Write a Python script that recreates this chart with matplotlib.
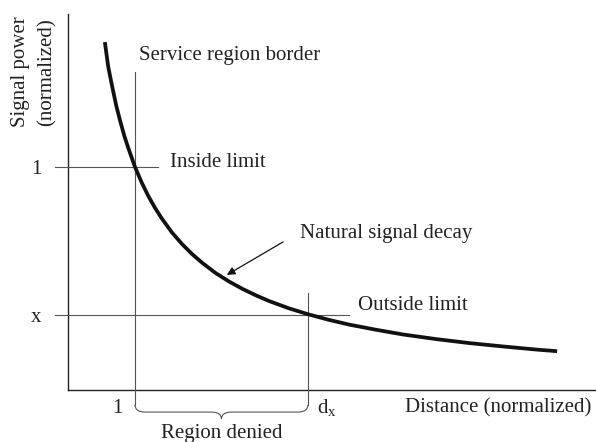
import matplotlib
matplotlib.use("Agg")
import matplotlib.pyplot as plt
from matplotlib.path import Path
from matplotlib.patches import PathPatch

# ---- data ----
distance = [0.55, 0.60, 0.66, 0.72, 0.78, 0.84, 0.90, 1.00, 1.10, 1.20, 1.30,
            1.40, 1.55, 1.70, 1.85, 2.00, 2.20, 2.40, 2.60, 2.80, 3.00, 3.30,
            3.58, 3.90, 4.20, 4.60, 5.00, 5.50, 6.00, 6.50, 7.00, 7.30]
power = [1.56, 1.45, 1.36, 1.275, 1.205, 1.14, 1.085, 1.00, 0.930, 0.869,
         0.816, 0.769, 0.707, 0.655, 0.610, 0.571, 0.525, 0.487, 0.454,
         0.425, 0.399, 0.366, 0.340, 0.314, 0.293, 0.270, 0.249, 0.228,
         0.210, 0.195, 0.181, 0.174]
inside_limit = 1.0      # "1"
outside_limit = 0.336   # "x"
border_dist = 1.0       # "1"
dx_dist = 3.58          # "d_x"
ytick_labels = ["1", "x"]

serif = ["Liberation Serif", "DejaVu Serif"]
FS = 15

fig = plt.figure(figsize=(5.96, 4.42), dpi=100)
ax = fig.add_axes([68 / 596, 52 / 442, 528 / 596, 376 / 442])
ax.set_xlim(0, 7.88)
ax.set_ylim(0, 1.686)
for s in ("top", "right"):
    ax.spines[s].set_visible(False)
for s in ("left", "bottom"):
    ax.spines[s].set_linewidth(1.0)
    ax.spines[s].set_color("#222222")

ax.set_xticks([])
ax.set_yticks([inside_limit, outside_limit])
ax.set_yticklabels(ytick_labels, fontsize=FS, family=serif, color="#222222")
ax.tick_params(axis="y", length=0, pad=19)

# main curve
ax.plot(distance, power, color="#111111", lw=2.7, solid_capstyle="butt",
        solid_joinstyle="round", clip_on=False, zorder=5)

guide = dict(color="#555555", lw=0.8, clip_on=False, zorder=3)
# horizontal limit lines
ax.plot([-0.194, 1.343], [inside_limit, inside_limit], **guide)
ax.plot([-0.194, 4.19], [outside_limit, outside_limit], **guide)
# vertical lines
ax.plot([border_dist, border_dist], [1.426, -0.067], **guide)
ax.plot([dx_dist, dx_dist], [0.435, -0.067], **guide)

# brace below axis
yt, yb, ytip = -0.067, -0.099, -0.130
r = 0.15
mid = (border_dist + dx_dist) / 2
verts = [
    (border_dist, yt), (border_dist, yb), (border_dist + r, yb),
    (mid - r, yb),
    (mid, yb), (mid, ytip),
    (mid, yb), (mid + r, yb),
    (dx_dist - r, yb),
    (dx_dist, yb), (dx_dist, yt),
]
codes = [Path.MOVETO, Path.CURVE3, Path.CURVE3, Path.LINETO,
         Path.CURVE3, Path.CURVE3, Path.CURVE3, Path.CURVE3,
         Path.LINETO, Path.CURVE3, Path.CURVE3]
ax.add_patch(PathPatch(Path(verts, codes), fill=False, edgecolor="#555555",
                       lw=0.8, clip_on=False, zorder=3))

# labels
txt = dict(fontsize=FS, family=serif, color="#222222", clip_on=False)
ax.text(1.06, 1.502, "Service region border", ha="left", va="center", **txt)
ax.text(1.52, 1.018, "Inside limit", ha="left", va="center", **txt)
ax.text(3.46, 0.700, "Natural signal decay", ha="left", va="center", **txt)
ax.text(4.33, 0.381, "Outside limit", ha="left", va="center", **txt)
ax.text(border_dist - 0.19, -0.083, "1", ha="right", va="center", **txt)
ax.text(dx_dist + 0.13, -0.080, r"d$_\mathregular{x}$", ha="left", va="center", **txt)
ax.text(5.03, -0.081, "Distance (normalized)", ha="left", va="center", **txt)
ax.text(mid, -0.196, "Region denied", ha="center", va="center", **txt)

ax.annotate("", xy=(2.37, 0.516), xytext=(3.21, 0.664),
            arrowprops=dict(arrowstyle="-|>", color="#111111", lw=0.9,
                            mutation_scale=12, shrinkA=0, shrinkB=0))

fig.text(34 / 596, 1 - 72 / 442, "Signal power\n(normalized)", rotation=90,
         ha="center", va="center", multialignment="center", fontsize=FS,
         family=serif, color="#222222", linespacing=1.5)

fig.savefig("out.png", dpi=100)
